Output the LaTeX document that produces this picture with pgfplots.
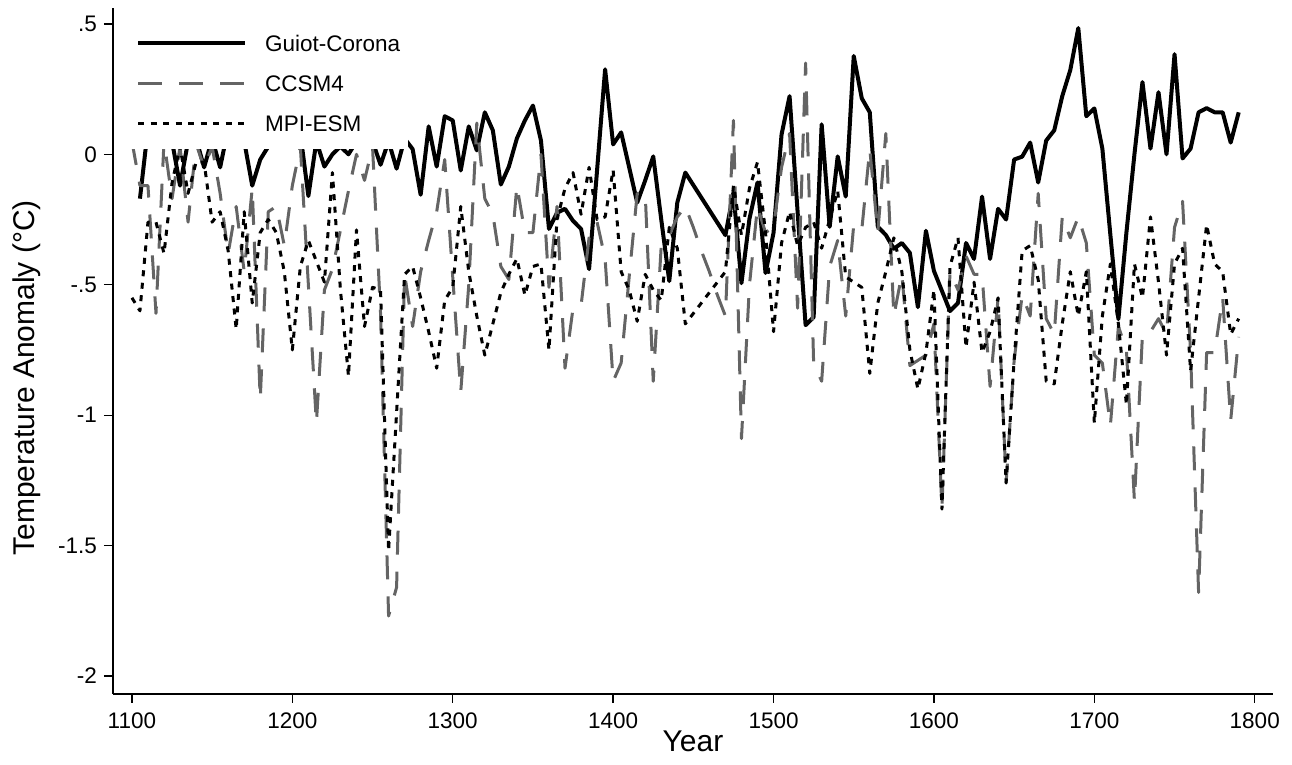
\documentclass[border=0pt]{standalone}
\usepackage{fontspec}
\setmainfont{Liberation Sans}
\usepackage{pgfplots}
\usepackage{pgfplotstable}
\pgfplotsset{compat=1.18}

% Five-year temperature anomalies (deg C): reconstruction and two model runs
\pgfplotstableread{
year guiot ccsm mpi
1100 nan 0.05 -0.55
1105 -0.17 -0.12 -0.60
1110 0.10 -0.12 -0.26
1115 0.05 -0.61 -0.26
1120 0.08 0.05 -0.38
1125 0.05 -0.17 -0.11
1130 -0.12 0.03 0.03
1135 0.05 -0.26 -0.15
1140 0.06 0.04 -0.03
1145 -0.05 -0.05 -0.03
1150 0.06 0.03 -0.26
1155 -0.05 -0.15 -0.22
1160 0.10 -0.38 -0.37
1165 0.05 -0.20 -0.67
1170 0.05 -0.45 -0.22
1175 -0.12 -0.13 -0.57
1180 -0.02 -0.94 -0.30
1185 0.03 -0.22 -0.25
1190 0.05 -0.20 -0.30
1195 0.10 -0.35 -0.45
1200 0.05 -0.12 -0.75
1205 0.08 0.03 -0.43
1210 -0.16 -0.50 -0.33
1215 0.05 -1.03 -0.41
1220 -0.047 -0.52 -0.49
1225 0.00 -0.44 -0.07
1230 0.03 -0.29 -0.52
1235 0.00 -0.14 -0.85
1240 0.05 0.00 -0.29
1245 0.05 -0.10 -0.66
1250 0.05 0.03 -0.51
1255 -0.04 -0.61 -0.52
1260 0.05 -1.77 -1.52
1265 -0.055 -1.66 -0.99
1270 0.06 -0.46 -0.46
1275 0.02 -0.66 -0.43
1280 -0.155 -0.45 -0.55
1285 0.107 -0.33 -0.68
1290 -0.047 -0.22 -0.82
1295 0.146 -0.02 -0.56
1300 0.13 -0.47 -0.51
1305 -0.062 -0.91 -0.20
1310 0.107 -0.50 -0.45
1315 0.015 0.12 -0.62
1320 0.161 -0.17 -0.77
1325 0.092 -0.23 -0.65
1330 -0.116 -0.43 -0.53
1335 -0.047 -0.48 -0.46
1340 0.061 -0.12 -0.40
1345 0.13 -0.30 -0.54
1350 0.187 -0.30 -0.43
1355 0.053 0.00 -0.42
1360 -0.286 -0.51 -0.75
1365 -0.224 -0.20 -0.25
1370 -0.209 -0.82 -0.13
1375 -0.255 -0.59 -0.07
1380 -0.286 -0.58 -0.23
1385 -0.44 -0.32 -0.05
1390 -0.06 -0.26 -0.25
1395 0.326 -0.40 -0.24
1400 0.038 -0.87 -0.06
1405 0.084 -0.80 -0.45
1410 -0.05 -0.47 -0.52
1415 -0.185 -0.15 -0.64
1420 -0.10 -0.15 -0.46
1425 -0.008 -0.87 -0.52
1430 -0.25 -0.35 -0.56
1435 -0.486 -0.31 -0.28
1440 -0.185 -0.24 -0.36
1445 -0.07 -0.20 -0.65
1450 -0.118 -0.28 -0.61
1455 -0.166 -0.37 -0.57
1460 -0.214 -0.45 -0.53
1465 -0.262 -0.54 -0.49
1470 -0.31 -0.62 -0.45
1475 -0.147 0.13 -0.12
1480 -0.494 -1.09 -0.31
1485 -0.247 -0.50 -0.13
1490 -0.108 -0.20 -0.03
1495 -0.455 -0.30 -0.30
1500 -0.301 -0.28 -0.68
1505 0.076 -0.05 -0.34
1510 0.223 0.08 -0.22
1515 -0.22 -0.59 -0.35
1520 -0.655 0.35 -0.28
1525 -0.624 -0.80 -0.26
1530 0.115 -0.87 -0.36
1535 -0.278 -0.43 -0.25
1540 -0.008 -0.33 -0.14
1545 -0.162 -0.62 -0.47
1550 0.377 -0.27 -0.49
1555 0.215 -0.29 -0.51
1560 0.161 0.02 -0.84
1565 -0.278 -0.30 -0.57
1570 -0.309 0.08 -0.45
1575 -0.362 -0.62 -0.32
1580 -0.34 -0.46 -0.45
1585 -0.378 -0.81 -0.75
1590 -0.586 -0.79 -0.90
1595 -0.293 -0.77 -0.76
1600 -0.447 -0.65 -0.52
1605 -0.524 -1.36 -1.36
1610 -0.601 -0.45 -0.43
1615 -0.57 -0.52 -0.32
1620 -0.34 -0.39 -0.74
1625 -0.401 -0.46 -0.49
1630 -0.162 -0.46 -0.76
1635 -0.401 -0.89 -0.68
1640 -0.209 -0.55 -0.55
1645 -0.25 -1.26 -1.26
1650 -0.02 -0.79 -0.79
1655 -0.009 -0.54 -0.37
1660 0.045 -0.62 -0.35
1665 -0.108 -0.15 -0.48
1670 0.053 -0.63 -0.87
1675 0.092 -0.69 -0.88
1680 0.223 -0.24 -0.65
1685 0.323 -0.32 -0.45
1690 0.484 -0.24 -0.62
1695 0.146 -0.34 -0.45
1700 0.176 -0.77 -1.03
1705 0.022 -0.80 -0.62
1710 -0.309 -1.04 -0.42
1715 -0.632 -0.66 -0.65
1720 -0.30 -0.75 -0.96
1725 0.00 -1.33 -0.42
1730 0.277 -0.69 -0.55
1735 0.022 -0.68 -0.24
1740 0.238 -0.63 -0.49
1745 0.00 -0.69 -0.77
1750 0.384 -0.28 -0.42
1755 -0.016 -0.18 -0.36
1760 0.022 -0.76 -0.83
1765 0.161 -1.68 -0.55
1770 0.177 -0.76 -0.27
1775 0.161 -0.76 -0.42
1780 0.161 -0.55 -0.45
1785 0.045 -1.02 -0.69
1790 0.161 -0.70 -0.63
}\anomalies

\definecolor{ccsmgray}{RGB}{100,100,100}

\newcommand{\ticksize}{\fontsize{22.5}{25}\selectfont}
\newcommand{\titlesize}{\fontsize{30}{34}\selectfont}

\begin{document}
\begin{tikzpicture}[x=1pt,y=1pt]
\path[use as bounding box] (0,0) rectangle (1292,765);
\begin{axis}[
  at={(113pt,71pt)}, anchor=south west,
  scale only axis, width=1160pt, height=686pt,
  xmin=1088.2, xmax=1811.4, ymin=-2.069, ymax=0.561,
  axis lines=left,
  axis line style={-, line width=1.3pt},
  xtick={1100,1200,...,1800},
  xticklabels={1100,1200,1300,1400,1500,1600,1700,1800},
  ytick={-2,-1.5,-1,-0.5,0,0.5},
  yticklabels={-2,-1.5,-1,-.5,0,.5},
  tick align=outside, major tick length=9pt,
  tick style={black, line width=1.3pt},
  tick label style={font=\ticksize},
  xticklabel style={anchor=north, inner sep=0pt, yshift=-10pt},
  yticklabel style={anchor=east, inner sep=0pt, xshift=-7pt},
  xlabel={Year},
  xlabel style={at={(axis description cs:0.5,-0.0831)}, anchor=base, font=\titlesize},
  ylabel={Temperature Anomaly (°C)},
  ylabel style={at={(axis description cs:-0.0677,0.461)}, anchor=base, font=\titlesize},
  legend cell align=left,
  legend image code/.code={\draw[#1, line cap=butt] (0pt,0pt) -- (107pt,0pt);},
  legend style={at={(0,1)}, anchor=north west, xshift=23pt, yshift=-27pt,
    draw=none, fill=none, inner sep=0pt, row sep=24pt, column sep=18pt,
    nodes={inner sep=0pt, text height=16pt, text depth=0pt, font=\ticksize}},
  line join=round,
]
\addplot[black, line width=4pt] table[x=year, y=guiot] {\anomalies};
\addlegendentry{Guiot-Corona}
\addplot[ccsmgray, line width=3pt, dash pattern=on 24pt off 17pt] table[x=year, y=ccsm] {\anomalies};
\addlegendentry{CCSM4}
\addplot[black, line width=3pt, dash pattern=on 6pt off 6.5pt] table[x=year, y=mpi] {\anomalies};
\addlegendentry{MPI-ESM}
% white panel behind the legend
\fill[white] ([xshift=1pt]rel axis cs:0,1) rectangle (axis cs:1272,0.021);
\end{axis}
\end{tikzpicture}
\end{document}
